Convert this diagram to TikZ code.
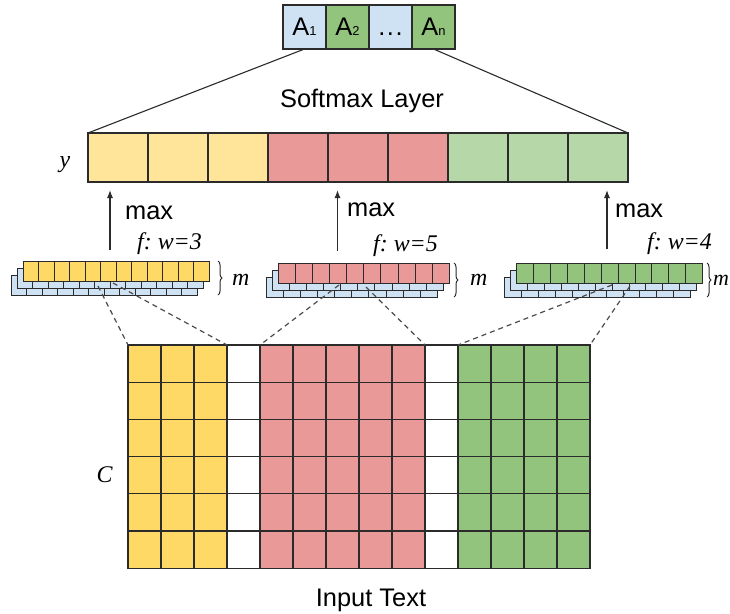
\documentclass[tikz,border=0pt]{standalone}
\usepackage{fontspec}
\setmainfont{Liberation Serif}
\setsansfont{Liberation Sans}
\usetikzlibrary{decorations.pathreplacing,arrows.meta}
\definecolor{cyel}{HTML}{FFD966}
\definecolor{lyel}{HTML}{FFE599}
\definecolor{cred}{HTML}{EA9999}
\definecolor{cgreen}{HTML}{93C47D}
\definecolor{lgreen}{HTML}{B6D7A8}
\definecolor{cblue}{HTML}{CFE2F3}
\definecolor{edge}{HTML}{2B2B2B}
\newcommand\bigfont{\fontsize{25.5}{29}\selectfont}
\newcommand\itfont{\fontsize{24}{28}\selectfont}
\newcommand\subfont{\fontsize{13}{14}\selectfont}
% #1 name, #2 x, #3 y, #4 number of cells, #5 cell width, #6 colour of the top layer
\newcommand\fmstack[6]{%
  \foreach \k in {2,1,0}{%
    \foreach \j in {1,...,#4}{%
      \ifnum\k=0 \def\fc{#6}\else\def\fc{cblue}\fi
      \node[fmcell,minimum width=#5bp,fill=\fc] (#1-\k-\j) at ({#2+(\j-1)*#5-6*\k},{#3+7*\k}) {};
    }}}
\begin{document}
\begin{tikzpicture}[x=1bp,y=-1bp,
  cellbase/.style={draw=edge,line width=1.1bp,inner sep=0pt,outer sep=0pt,anchor=north west},
  abox/.style={cellbase,minimum width=43bp,minimum height=44bp,font=\sffamily\bigfont},
  ycell/.style={cellbase,minimum width=60bp,minimum height=49bp},
  gcell/.style={cellbase,minimum width=33bp,minimum height=37.2bp},
  fmcell/.style={cellbase,line width=0.9bp,minimum height=20bp},
  lbl/.style={font=\sffamily\bigfont,inner sep=0pt},
  mlbl/.style={font=\itshape\itfont,inner sep=0pt},
  fan/.style={draw=edge,line width=1.1bp},
  dline/.style={draw=edge!85,line width=1.2bp,dash pattern=on 5bp off 4bp},
  maxarrow/.style={draw=edge,line width=1.2bp,-{Latex[length=8bp,width=6bp]}},
  mbrace/.style={draw=edge,line width=1bp,decorate,decoration={brace,amplitude=4bp}}]
\fill[white] (0,0) rectangle (730,614);
\useasboundingbox (0,0) rectangle (730,614);

% output classes
\node[abox,fill=cblue]  (a1) at (283,5) {A\subfont 1};
\node[abox,fill=cgreen] (a2) at (326,5) {A\subfont 2};
\node[abox,fill=cblue]  (a3) at (369,5) {\vphantom{A}.\kern1.5bp.\kern1.5bp.};
\node[abox,fill=cgreen] (a4) at (412,5) {A\subfont n};

\node[lbl,anchor=base] (soft) at (362,108) {Softmax Layer};

% y layer
\foreach \i/\c in {0/lyel,1/lyel,2/lyel,3/cred,4/cred,5/cred,6/lgreen,7/lgreen,8/lgreen}
  \node[ycell,fill=\c] (y\i) at ({88+60*\i},133) {};
\draw[fan] (y0.north west) -- (a1.south);
\draw[fan] (y8.north east) -- (a4.south);
\node[mlbl,anchor=base] (ly) at (65,168) {y};

% feature maps
\fmstack{L}{23.3}{261}{12}{15.5}{cyel}
\fmstack{M}{278.3}{263}{10}{17.1}{cred}
\fmstack{R}{516.7}{263}{11}{16.9}{cgreen}

\draw[mbrace] (218,261) -- (218,295);
\draw[mbrace] (454,263) -- (454,297);
\draw[mbrace] (707,263) -- (707,297);
\node[mlbl,anchor=base west] (mL) at (232,285) {m};
\node[mlbl,anchor=base west] (mM) at (470,285) {m};
\node[mlbl,anchor=base west,font=\itshape\fontsize{22}{26}\selectfont] (mR) at (713,285) {m};

% max pooling arrows
\coordinate (aL) at (110,250);
\coordinate (aM) at (337.5,251);
\coordinate (aR) at (607,249);
\draw[maxarrow,shorten >=8bp] (aL) -- (aL |- y0.south);
\draw[maxarrow,shorten >=8bp] (aM) -- (aM |- y4.south);
\draw[maxarrow,shorten >=8bp] (aR) -- (aR |- y7.south);
\node[lbl,anchor=base west] (mxL) at (125,219) {max};
\node[lbl,anchor=base west] (mxM) at (347,217) {max};
\node[lbl,anchor=base west] (mxR) at (615,218) {max};
\node[mlbl,anchor=base west] (fL) at (137,249) {f:\kern-2bp{} w=3};
\node[mlbl,anchor=base west] (fM) at (373,251) {f:\kern-2bp{} w=5};
\node[mlbl,anchor=base west] (fR) at (647,249) {f:\kern-2bp{} w=4};

% input text matrix
\foreach \c/\col in {1/cyel,2/cyel,3/cyel,4/white,5/cred,6/cred,7/cred,8/cred,9/cred,10/white,11/cgreen,12/cgreen,13/cgreen,14/cgreen}
  \foreach \r in {1,...,6}
    \node[gcell,fill=\col] (g-\r-\c) at ({128+33*(\c-1)},{345+37.2*(\r-1)}) {};
\node[mlbl,anchor=base] (lC) at (104.5,482) {C};
\node[lbl,anchor=base] (inp) at (371,606) {Input Text};

% convolution windows
\coordinate (dL1) at (98,286);
\coordinate (dL2) at (113,283);
\coordinate (dM1) at (339,285);
\coordinate (dM2) at (366,287);
\coordinate (dR1) at (612,285);
\coordinate (dR2) at (630,286);
\draw[dline] (dL1) -- (g-1-1.north west);
\draw[dline] (dL2) -- (g-1-3.north east);
\draw[dline] (dM1) -- (g-1-5.north west);
\draw[dline] (dM2) -- (g-1-9.north east);
\draw[dline] (dR1) -- (g-1-11.north west);
\draw[dline] (dR2) -- (g-1-14.north east);
\end{tikzpicture}
\end{document}
